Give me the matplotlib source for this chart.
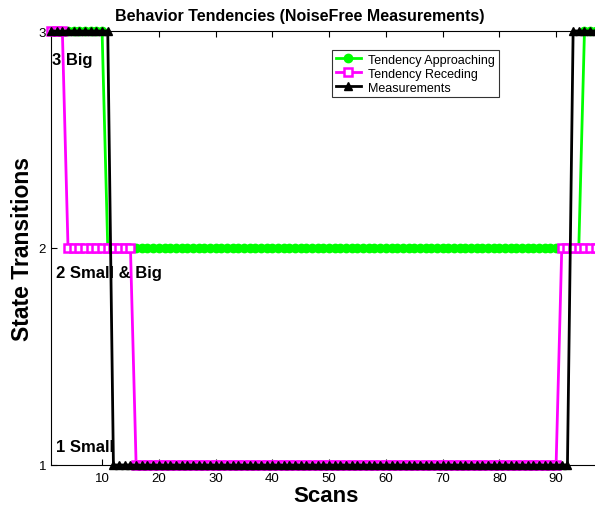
import matplotlib
matplotlib.use("Agg")
import matplotlib.pyplot as plt

plt.rcParams['font.family'] = ['Liberation Sans', 'DejaVu Sans']

scans = list(range(1, 101))
approaching = [3] * 10 + [2] * 84 + [3] * 6
receding = [3] * 3 + [2] * 12 + [1] * 75 + [2] * 10
measurements = [3] * 11 + [1] * 81 + [3] * 8

state_ticks = [1, 2, 3]
state_labels = ["1 Small", "2 Small & Big", "3 Big"]
x_ticks = [10, 20, 30, 40, 50, 60, 70, 80, 90]

fig = plt.figure(figsize=(5.95, 5.10), dpi=100)
ax = fig.add_axes([51 / 595, 44 / 510, 550.5 / 595, 434 / 510])

ax.plot(scans, approaching, color='#00ff00', lw=2, marker='o', ms=6,
        mfc='#00ff00', mec='#00ff00', label='Tendency Approaching', clip_on=False, zorder=3)
ax.plot(scans, receding, color='#ff00ff', lw=2, marker='s', ms=5.5,
        mfc='white', mec='#ff00ff', mew=1.8, label='Tendency Receding', clip_on=False, zorder=4)
ax.plot(scans, measurements, color='black', lw=2, marker='^', ms=5.5,
        mfc='black', mec='black', label='Measurements', clip_on=False, zorder=5)

ax.set_xlim(1, 98)
ax.set_ylim(1, 3)
ax.set_xticks(x_ticks)
ax.set_yticks(state_ticks)
ax.tick_params(direction='in', top=True, right=True, labelsize=9.5, length=4)
ax.tick_params(axis='x', pad=5)

text_pos = {1: (1.8, 1.085), 2: (1.8, 1.885), 3: (1.1, 2.87)}
for v, lab in zip(state_ticks, state_labels):
    x, y = text_pos[v]
    ax.text(x, y, lab, fontsize=12, fontweight='bold', va='center', ha='left', zorder=6)

fig.text(300 / 595, 1 - 16 / 510, 'Behavior Tendencies (NoiseFree Measurements)',
         fontsize=11.5, fontweight='bold', ha='center', va='center')
ax.set_xlabel('Scans', fontsize=16, fontweight='bold', labelpad=1)
ax.set_ylabel('State Transitions', fontsize=16.5, fontweight='bold', labelpad=3)

leg = ax.legend(loc='upper left', bbox_to_anchor=(281 / 550.5, 0.956), fontsize=9, frameon=True,
                fancybox=False, edgecolor='black', borderpad=0.3, labelspacing=0.15,
                handlelength=2.0, handletextpad=0.6, borderaxespad=0)
leg.get_frame().set_linewidth(0.8)

fig.savefig('out.png', dpi=100)
